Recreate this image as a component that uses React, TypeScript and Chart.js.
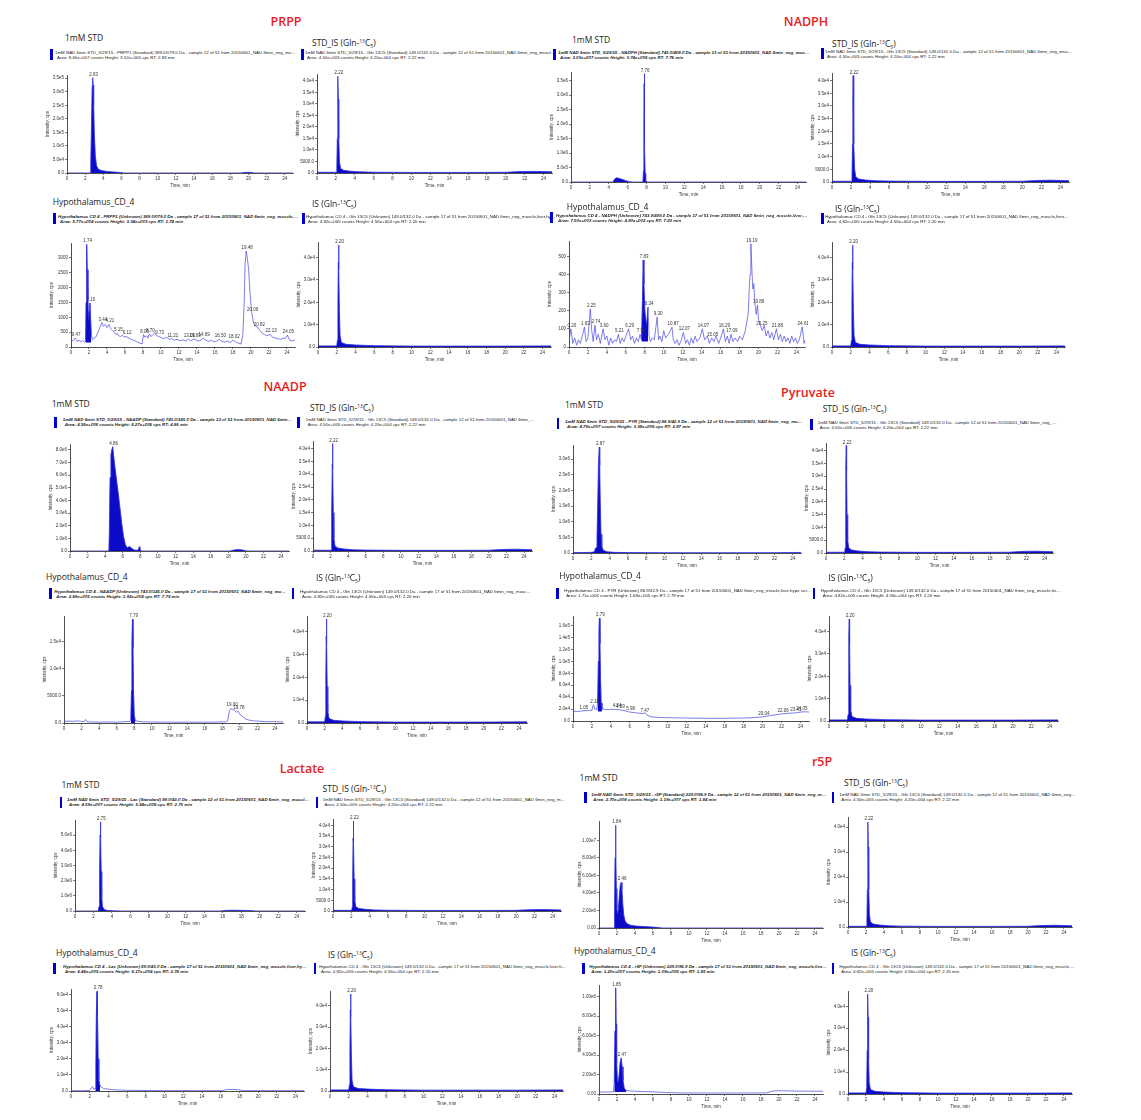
import React, { useEffect, useRef } from "react";
import { Chart, registerables } from "chart.js";

Chart.register(...registerables);

type Pt = [number, number];

// ---------------- shared axis data ----------------
const xTicks = [0, 2, 4, 6, 8, 10, 12, 14, 16, 18, 20, 22, 24];
const X_MAX = 24.9;

const isStdYTicks = [0, 5000, 10000, 15000, 20000, 25000, 30000, 35000, 40000];
const isStdYLabels = ["0.0", "5000.0", "1.0e4", "1.5e4", "2.0e4", "2.5e4", "3.0e4", "3.5e4", "4.0e4"];
const isHypoYTicks = [0, 10000, 20000, 30000, 40000];
const isHypoYLabels = ["0.0", "1.0e4", "2.0e4", "3.0e4", "4.0e4"];

// ---------------- internal standard traces (same injections reused) ----------------
const stdIsTrace: Pt[] = [
  [0, 300], [2.05, 300], [2.1, 2000], [2.15, 15000], [2.19, 34000], [2.22, 42000], [2.26, 32000],
  [2.31, 15000], [2.38, 5000], [2.5, 2000], [2.8, 1200], [3.5, 800], [4.5, 500], [6, 350],
  [10, 250], [16, 250], [20, 300], [21.5, 600], [23, 700], [24, 600], [24.9, 500],
];
const stdIsPeaks: Pt[] = [[2.22, 42000]];

const hypoIsTrace: Pt[] = [
  [0, 500], [2.0, 500], [2.08, 3000], [2.13, 20000], [2.17, 38000], [2.2, 45600], [2.24, 35000],
  [2.29, 16000], [2.36, 5000], [2.5, 2000], [3, 1200], [4, 900], [6, 600], [10, 400], [20, 400], [24.9, 500],
];
const hypoIsPeaks: Pt[] = [[2.2, 45600]];

// ---------------- PRPP ----------------
const prppStdTrace: Pt[] = [
  [0, 0], [2.55, 0], [2.62, 40000], [2.7, 180000], [2.77, 320000], [2.83, 352000], [2.88, 325000],
  [2.94, 250000], [3.02, 140000], [3.12, 65000], [3.25, 28000], [3.45, 14000], [3.8, 9000],
  [4.4, 6000], [5.2, 3500], [5.9, 2000], [6.3, 0], [19.2, 0], [19.5, 2000], [20.2, 2500], [20.6, 0], [24.9, 0],
];
const prppStdPeaks: Pt[] = [[2.83, 352000]];
const prppStdYTicks = [0, 50000, 100000, 150000, 200000, 250000, 300000, 350000];
const prppStdYLabels = ["0.0", "5.0e4", "1.0e5", "1.5e5", "2.0e5", "2.5e5", "3.0e5", "3.5e5"];

const prppHypoTrace: Pt[] = [
  [0, 250], [0.2, 200], [0.47, 300], [0.7, 180], [0.9, 230], [1.1, 170], [1.3, 220], [1.5, 160],
  [1.62, 180], [1.68, 1500], [1.74, 3450], [1.8, 2600], [1.88, 1600], [1.95, 900], [2.02, 1200],
  [2.1, 1480], [2.18, 900], [2.26, 400], [2.4, 250], [2.6, 300], [2.8, 350], [3.0, 500], [3.2, 650],
  [3.44, 820], [3.6, 700], [3.8, 760], [4.0, 650], [4.21, 760], [4.4, 620], [4.6, 550], [4.8, 500],
  [5.0, 420], [5.15, 460], [5.3, 380], [5.5, 350], [5.7, 400], [5.9, 330], [6.12, 360], [6.4, 300],
  [6.7, 260], [7.0, 220], [7.3, 180], [7.6, 140], [7.9, 100], [8.06, 420], [8.2, 330], [8.4, 380],
  [8.55, 300], [8.7, 440], [8.9, 350], [9.1, 420], [9.3, 480], [9.5, 380], [9.73, 360], [10.0, 320],
  [10.3, 280], [10.6, 330], [10.9, 260], [11.21, 280], [11.5, 230], [11.8, 260], [12.1, 210],
  [12.4, 240], [12.7, 200], [13.06, 260], [13.3, 210], [13.69, 270], [14.0, 220], [14.3, 200],
  [14.69, 300], [15.0, 230], [15.3, 190], [15.6, 220], [15.9, 170], [16.2, 200], [16.5, 260],
  [16.8, 190], [17.1, 160], [17.4, 200], [17.7, 150], [18.02, 230], [18.3, 170], [18.6, 130],
  [18.9, 100], [19.1, 400], [19.25, 1500], [19.35, 2800], [19.48, 3230], [19.6, 3000], [19.75, 2600],
  [19.9, 1800], [20.09, 1150], [20.3, 800], [20.5, 700], [20.82, 650], [21.0, 550], [21.2, 480],
  [21.5, 420], [21.8, 380], [22.13, 430], [22.4, 330], [22.7, 300], [23.0, 280], [23.3, 260],
  [23.6, 300], [23.8, 280], [24.05, 400], [24.3, 230], [24.6, 200], [24.9, 240],
];
const prppHypoPeaks: Pt[] = [
  [0.47, 300], [1.74, 3450], [2.1, 1480], [3.44, 820], [4.21, 760], [5.15, 460], [6.12, 360],
  [8.06, 420], [8.7, 440], [9.73, 360], [11.21, 280], [13.06, 260], [13.69, 270], [14.69, 300],
  [16.5, 260], [18.02, 230], [19.48, 3230], [20.09, 1150], [20.82, 650], [22.13, 430], [24.05, 400],
];
const prppHypoYTicks = [0, 500, 1000, 1500, 2000, 2500, 3000];
const prppHypoYLabels = ["0", "500", "1000", "1500", "2000", "2500", "3000"];

// ---------------- NADPH ----------------
const nadphStdTrace: Pt[] = [
  [0, 0], [4.4, 0], [4.5, 30000], [4.65, 110000], [4.85, 145000], [5.05, 130000], [5.3, 105000],
  [5.6, 70000], [5.9, 35000], [6.2, 12000], [6.5, 0], [7.62, 0], [7.68, 400000], [7.72, 2000000],
  [7.75, 3400000], [7.76, 3740000], [7.79, 2600000], [7.82, 1200000], [7.86, 300000], [7.92, 60000],
  [8.05, 0], [24.9, 0],
];
const nadphStdPeaks: Pt[] = [[7.76, 3740000]];
const nadphStdYTicks = [0, 500000, 1000000, 1500000, 2000000, 2500000, 3000000, 3500000];
const nadphStdYLabels = ["0.0", "5.0e5", "1.0e6", "1.5e6", "2.0e6", "2.5e6", "3.0e6", "3.5e6"];

const nadphHypoTrace: Pt[] = [
  [0, 30], [0.2, 100], [0.4, 20], [0.6, 50], [0.8, 10], [1.0, 40], [1.2, 20], [1.4, 60], [1.63, 110],
  [1.8, 30], [2.0, 50], [2.25, 210], [2.4, 90], [2.55, 30], [2.74, 120], [2.9, 40], [3.1, 70],
  [3.3, 20], [3.6, 100], [3.8, 40], [4.0, 60], [4.2, 10], [4.4, 50], [4.6, 20], [4.8, 40], [5.0, 30],
  [5.21, 70], [5.4, 20], [5.6, 50], [5.8, 30], [6.0, 60], [6.29, 100], [6.5, 40], [6.7, 60], [6.9, 20],
  [7.1, 50], [7.3, 30], [7.5, 70], [7.65, 40], [7.75, 250], [7.83, 480], [7.9, 350], [8.0, 200],
  [8.1, 150], [8.2, 120], [8.34, 220], [8.45, 60], [8.6, 30], [8.8, 50], [9.0, 40], [9.1, 80],
  [9.3, 165], [9.45, 40], [9.6, 60], [9.8, 30], [10.0, 90], [10.2, 50], [10.5, 70], [10.87, 110],
  [11.0, 40], [11.2, 20], [11.4, 40], [11.6, 10], [11.8, 30], [12.07, 80], [12.3, 20], [12.5, 40],
  [12.7, 10], [12.9, 50], [13.1, 20], [13.3, 60], [13.5, 30], [13.8, 50], [14.07, 100], [14.3, 40],
  [14.6, 60], [14.8, 20], [15.05, 50], [15.3, 30], [15.5, 60], [15.8, 20], [16.0, 50], [16.29, 100],
  [16.5, 30], [16.7, 60], [16.9, 20], [17.09, 70], [17.3, 30], [17.5, 50], [17.8, 30], [18.0, 60],
  [18.3, 40], [18.6, 90], [18.9, 180], [19.0, 300], [19.1, 400], [19.19, 570], [19.3, 420],
  [19.4, 320], [19.5, 350], [19.6, 250], [19.75, 180], [19.89, 230], [20.0, 150], [20.25, 110],
  [20.4, 90], [20.6, 120], [20.8, 60], [21.0, 90], [21.2, 50], [21.4, 80], [21.6, 40], [21.88, 100],
  [22.1, 40], [22.3, 70], [22.5, 30], [22.7, 60], [22.9, 30], [23.1, 50], [23.3, 20], [23.5, 60],
  [23.7, 30], [23.9, 50], [24.1, 20], [24.3, 40], [24.61, 110], [24.8, 20], [24.9, 40],
];
const nadphHypoPeaks: Pt[] = [
  [0.2, 100], [1.63, 110], [2.25, 210], [2.74, 120], [3.6, 100], [5.21, 70], [6.29, 100], [7.5, 70],
  [7.83, 480], [8.34, 220], [9.3, 165], [10.87, 110], [12.07, 80], [14.07, 100], [15.05, 50],
  [16.29, 100], [17.09, 70], [19.19, 570], [19.89, 230], [20.25, 110], [21.88, 100], [24.61, 110],
];
const nadphHypoYTicks = [0, 100, 200, 300, 400, 500];
const nadphHypoYLabels = ["0", "100", "200", "300", "400", "500"];

// ---------------- NAADP ----------------
const naadpStdTrace: Pt[] = [
  [0, 0], [4.42, 0], [4.47, 1500000], [4.55, 5800000], [4.65, 7600000], [4.78, 8100000],
  [4.86, 8250000], [4.95, 7600000], [5.1, 6700000], [5.3, 5600000], [5.5, 4500000], [5.7, 3300000],
  [5.9, 2100000], [6.1, 1100000], [6.3, 500000], [6.5, 250000], [6.65, 320000], [6.8, 350000],
  [7.0, 220000], [7.3, 80000], [7.7, 60000], [7.8, 150000], [7.87, 340000], [7.95, 200000], [8.05, 0],
  [18.2, 0], [18.5, 60000], [19, 110000], [19.5, 90000], [19.9, 40000], [20.1, 0], [24.9, 0],
];
const naadpStdPeaks: Pt[] = [[4.86, 8250000]];
const naadpStdYTicks = [0, 1e6, 2e6, 3e6, 4e6, 5e6, 6e6, 7e6, 8e6];
const naadpStdYLabels = ["0.0", "1.0e6", "2.0e6", "3.0e6", "4.0e6", "5.0e6", "6.0e6", "7.0e6", "8.0e6"];

const naadpHypoTrace: Pt[] = [
  [0, 300], [0.5, 350], [1, 300], [1.5, 380], [2, 300], [2.3, 250], [2.45, 650], [2.6, 250], [3, 200],
  [4, 150], [5, 200], [6, 150], [7, 250], [7.5, 300], [7.6, 500], [7.68, 6000], [7.73, 15000],
  [7.79, 19200], [7.84, 14000], [7.9, 6000], [7.98, 1500], [8.1, 400], [9, 200], [12, 150], [16, 150],
  [18.4, 200], [18.6, 400], [18.8, 2200], [19.0, 2700], [19.2, 2500], [19.4, 2300], [19.6, 2000],
  [19.78, 2200], [20, 1600], [20.3, 1200], [20.6, 800], [21, 550], [21.5, 400], [22, 350], [23, 250],
  [24, 250], [24.9, 200],
];
const naadpHypoPeaks: Pt[] = [[7.79, 19200], [19.0, 2700], [19.78, 2200]];
const naadpHypoYTicks = [0, 5000, 10000, 15000];
const naadpHypoYLabels = ["0.0", "5000.0", "1.0e4", "1.5e4"];

// ---------------- Pyruvate ----------------
const pyrStdTrace: Pt[] = [
  [0, 15000], [1, 15000], [2, 20000], [2.35, 40000], [2.45, 160000], [2.55, 170000], [2.62, 500000],
  [2.7, 1600000], [2.78, 2900000], [2.87, 3380000], [2.92, 2800000], [2.98, 1600000], [3.06, 600000],
  [3.15, 220000], [3.3, 90000], [3.7, 40000], [4.5, 20000], [6, 12000], [10, 8000], [18, 8000],
  [22, 10000], [24.9, 18000],
];
const pyrStdPeaks: Pt[] = [[2.87, 3380000]];
const pyrStdYTicks = [0, 500000, 1000000, 1500000, 2000000, 2500000, 3000000];
const pyrStdYLabels = ["0.0", "5.0e5", "1.0e6", "1.5e6", "2.0e6", "2.5e6", "3.0e6"];

const pyrHypoTrace: Pt[] = [
  [0, 16000], [0.5, 16000], [1.05, 17000], [1.5, 17500], [2.0, 18000], [2.1, 26000], [2.18, 27000],
  [2.3, 20000], [2.5, 19000], [2.6, 30000], [2.68, 100000], [2.74, 150000], [2.79, 172000],
  [2.84, 130000], [2.9, 70000], [2.97, 30000], [3.05, 20000], [3.5, 19000], [4.0, 19500],
  [4.54, 19500], [4.89, 19000], [5.5, 17000], [5.98, 15000], [6.5, 14000], [7.0, 13000],
  [7.47, 12500], [7.6, 14000], [7.8, 10000], [8.2, 7000], [9, 6000], [10, 5500], [12, 5000],
  [14, 4500], [16, 4500], [18, 5000], [19, 5500], [20.04, 7000], [21, 9500], [22.06, 12000],
  [22.8, 13000], [23.41, 13500], [24.05, 15000], [24.5, 15500], [24.9, 15000],
];
const pyrHypoPeaks: Pt[] = [
  [1.05, 17000], [2.18, 27000], [2.79, 172000], [4.54, 19500], [4.89, 19000], [5.98, 15000],
  [7.47, 12500], [20.04, 7000], [22.06, 12000], [23.41, 13500], [24.05, 15000],
];
const pyrHypoYTicks = [0, 20000, 40000, 60000, 80000, 100000, 120000, 140000, 160000];
const pyrHypoYLabels = ["0.0", "2.0e4", "4.0e4", "6.0e4", "8.0e4", "1.0e5", "1.2e5", "1.4e5", "1.6e5"];

// ---------------- Lactate ----------------
const lacStdTrace: Pt[] = [
  [0, 0], [2.52, 0], [2.6, 300000], [2.66, 2400000], [2.71, 5000000], [2.75, 5870000],
  [2.79, 4800000], [2.84, 2600000], [2.9, 900000], [2.98, 300000], [3.15, 100000], [3.5, 40000],
  [4.2, 10000], [5, 0], [15.8, 0], [16.2, 40000], [17, 50000], [18.5, 40000], [19.2, 20000],
  [19.5, 0], [24.9, 0],
];
const lacStdPeaks: Pt[] = [[2.75, 5870000]];
const lacStdYTicks = [0, 1e6, 2e6, 3e6, 4e6, 5e6];
const lacStdYLabels = ["0.0", "1.0e6", "2.0e6", "3.0e6", "4.0e6", "5.0e6"];

const lacHypoTrace: Pt[] = [
  [0, 200], [1, 200], [2.0, 300], [2.15, 1800], [2.3, 2600], [2.45, 1200], [2.6, 1600], [2.66, 16000],
  [2.72, 50000], [2.78, 62000], [2.83, 47000], [2.9, 20000], [2.97, 7000], [3.1, 3000], [3.5, 1500],
  [4.5, 800], [6, 400], [10, 250], [16.2, 250], [16.6, 900], [17.3, 1000], [18, 700], [18.4, 250],
  [24.9, 250],
];
const lacHypoPeaks: Pt[] = [[2.78, 62000]];
const lacHypoYTicks = [0, 10000, 20000, 30000, 40000, 50000, 60000];
const lacHypoYLabels = ["0.0", "1.0e4", "2.0e4", "3.0e4", "4.0e4", "5.0e4", "6.0e4"];

// ---------------- r5P ----------------
const r5pStdTrace: Pt[] = [
  [0, 0], [1.68, 0], [1.73, 2000000], [1.78, 8000000], [1.84, 11700000], [1.88, 9000000],
  [1.93, 4500000], [1.99, 2200000], [2.06, 1600000], [2.15, 2200000], [2.25, 3500000],
  [2.35, 4800000], [2.46, 5200000], [2.55, 4400000], [2.65, 2700000], [2.75, 1500000],
  [2.9, 800000], [3.1, 500000], [3.5, 320000], [4, 240000], [5, 160000], [6, 100000], [6.6, 50000],
  [7, 0], [24.9, 0],
];
const r5pStdPeaks: Pt[] = [[1.84, 11700000], [2.46, 5200000]];
const r5pStdYTicks = [0, 2e6, 4e6, 6e6, 8e6, 1e7];
const r5pStdYLabels = ["0.00", "2.00e6", "4.00e6", "6.00e6", "8.00e6", "1.00e7"];

const r5pHypoTrace: Pt[] = [
  [0, 20000], [1, 20000], [1.6, 23000], [1.7, 120000], [1.78, 650000], [1.85, 1090000], [1.9, 720000],
  [1.96, 320000], [2.05, 130000], [2.15, 120000], [2.25, 200000], [2.35, 320000], [2.47, 370000],
  [2.56, 280000], [2.66, 140000], [2.8, 60000], [3.0, 35000], [4, 28000], [6, 22000], [7.5, 15000],
  [9, 11000], [14, 10000], [18.6, 11000], [19.1, 26000], [19.6, 34000], [20.5, 33000], [22, 30000],
  [24.9, 28000],
];
const r5pHypoPeaks: Pt[] = [[1.85, 1090000], [2.47, 370000]];
const r5pHypoYTicks = [0, 2e5, 4e5, 6e5, 8e5, 1e6];
const r5pHypoYLabels = ["0.00", "2.00e5", "4.00e5", "6.00e5", "8.00e5", "1.00e6"];

// ---------------- text ----------------
const WIFF = "from 20150601_NAD 6min_neg_muscle,liver,hypo set1_IOK5.wiff";
const H_STD_IS = "1mM NAD 6min STD_5/29/15 - Gln 13C5 (Standard) 149.0/132.0 Da - sample 12 of 51 " + WIFF;
const H_STD_IS2 = "Area: 4.50e+005 counts  Height: 4.20e+004 cps  RT: 2.22 min";
const H_HYP_IS = "Hypothalamus CD 4 - Gln 13C5 (Unknown) 149.0/132.0 Da - sample 17 of 51 " + WIFF;
const H_HYP_IS2 = "Area: 4.82e+005 counts  Height: 4.56e+004 cps  RT: 2.20 min";

const titles: [string, number, number][] = [
  ["PRPP", 286, 22], ["NADPH", 806, 22], ["NAADP", 285, 387],
  ["Pyruvate", 808, 393], ["Lactate", 302, 769], ["r5P", 822, 762],
];

// ---------------- layout ----------------
const FILL = "rgb(12,12,200)";
const FILL_LINE = "rgb(45,45,225)";
const TRACE = "rgb(70,70,228)";
const AXIS = "#222";
const TICK_FONT = "'Liberation Sans Narrow', 'Liberation Sans', Arial, sans-serif";
const YW = 22;
const XH = 15;
const TOP = 10;
const RP = 3;

type Fill = "all" | [number, number, number];

interface PanelDef {
  kind: "std" | "stdIs" | "hyp" | "hypIs";
  lx: number; ly: number;
  h1: string; h2: string; bold: boolean;
  rx: number; ry: number; tx: number;
  x0: number; x24: number; y0: number; yTopPx: number; yTopVal: number; yMax: number;
  yTicks: number[]; yLabels: string[];
  trace: Pt[]; peaks: Pt[]; fill: Fill;
}

const IS_STD = { yTicks: isStdYTicks, yLabels: isStdYLabels, trace: stdIsTrace, peaks: stdIsPeaks, fill: "all" as Fill, h1: H_STD_IS, h2: H_STD_IS2, bold: false, kind: "stdIs" as const };
const IS_HYP = { yTicks: isHypoYTicks, yLabels: isHypoYLabels, trace: hypoIsTrace, peaks: hypoIsPeaks, fill: "all" as Fill, h1: H_HYP_IS, h2: H_HYP_IS2, bold: false, kind: "hypIs" as const };

const panels: PanelDef[] = [
  // PRPP
  { kind: "std", lx: 65, ly: 38, rx: 50, ry: 49, tx: 55, bold: false,
    h1: "1mM NAD 6min STD_5/29/15 - PRPP1 (Standard) 389.0/079.0 Da - sample 12 of 51 " + WIFF,
    h2: "Area: 8.66e+007 counts  Height: 3.52e+005 cps  RT: 2.83 min",
    x0: 66.7, x24: 284.3, y0: 173.3, yTopPx: 78.3, yTopVal: 350000, yMax: 362000,
    yTicks: prppStdYTicks, yLabels: prppStdYLabels, trace: prppStdTrace, peaks: prppStdPeaks, fill: "all" },
  { ...IS_STD, lx: 312, ly: 40.5, rx: 301, ry: 49, tx: 305,
    x0: 317.3, x24: 544, y0: 173.3, yTopPx: 80.7, yTopVal: 40000, yMax: 43000 },
  { kind: "hyp", lx: 52.7, ly: 201.7, rx: 53, ry: 213, tx: 58, bold: true,
    h1: "Hypothalamus CD 4 - PRPP1 (Unknown) 389.0/079.0 Da - sample 17 of 51 " + WIFF,
    h2: "Area: 5.77e+004 counts  Height: 3.34e+003 cps  RT: 1.74 min",
    x0: 70.7, x24: 286.7, y0: 347.3, yTopPx: 258.3, yTopVal: 3000, yMax: 3500,
    yTicks: prppHypoYTicks, yLabels: prppHypoYLabels, trace: prppHypoTrace, peaks: prppHypoPeaks, fill: [1.62, 2.26, 150] },
  { ...IS_HYP, lx: 312, ly: 202, rx: 302, ry: 213, tx: 306,
    x0: 318, x24: 543, y0: 347, yTopPx: 258, yTopVal: 40000, yMax: 47000 },
  // NADPH
  { kind: "std", lx: 572, ly: 40, rx: 553, ry: 49, tx: 558, bold: true,
    h1: "1mM NAD 6min STD_5/29/15 - NADPH (Standard) 743.0/408.0 Da - sample 13 of 51 " + WIFF,
    h2: "Area: 3.03e+007 counts  Height: 3.74e+006 cps  RT: 7.76 min",
    x0: 570.7, x24: 797.3, y0: 182.3, yTopPx: 80.7, yTopVal: 3500000, yMax: 3800000,
    yTicks: nadphStdYTicks, yLabels: nadphStdYLabels, trace: nadphStdTrace, peaks: nadphStdPeaks, fill: "all" },
  { ...IS_STD, lx: 832, ly: 42, rx: 821, ry: 48, tx: 825,
    x0: 831.7, x24: 1059.7, y0: 182.3, yTopPx: 80.7, yTopVal: 40000, yMax: 43000 },
  { kind: "hyp", lx: 566.7, ly: 206.7, rx: 550, ry: 212, tx: 556, bold: true,
    h1: "Hypothalamus CD 4 - NADPH (Unknown) 743.0/408.0 Da - sample 17 of 51 " + WIFF,
    h2: "Area: 7.50e+003 counts  Height: 4.80e+002 cps  RT: 7.83 min",
    x0: 569.3, x24: 796.7, y0: 346.7, yTopPx: 256, yTopVal: 500, yMax: 585,
    yTicks: nadphHypoYTicks, yLabels: nadphHypoYLabels, trace: nadphHypoTrace, peaks: nadphHypoPeaks, fill: [7.65, 8.4, 30] },
  { ...IS_HYP, lx: 835, ly: 207, rx: 821, ry: 213, tx: 825,
    x0: 832, x24: 1057, y0: 347, yTopPx: 258, yTopVal: 40000, yMax: 47000 },
  // NAADP
  { kind: "std", lx: 51.7, ly: 404, rx: 54.3, ry: 416.5, tx: 62.7, bold: true,
    h1: "1mM NAD 6min STD_5/29/15 - NAADP (Standard) 743.0/145.0 Da - sample 13 of 51 " + WIFF,
    h2: "Area: 4.56e+008 counts  Height: 8.27e+006 cps  RT: 4.86 min",
    x0: 70, x24: 281.3, y0: 550.7, yTopPx: 450, yTopVal: 8000000, yMax: 8450000,
    yTicks: naadpStdYTicks, yLabels: naadpStdYLabels, trace: naadpStdTrace, peaks: naadpStdPeaks, fill: "all" },
  { ...IS_STD, lx: 310, ly: 406, rx: 297.3, ry: 416.5, tx: 305.7,
    x0: 313.3, x24: 524, y0: 550.7, yTopPx: 448.3, yTopVal: 40000, yMax: 43000 },
  { kind: "hyp", lx: 46, ly: 576.7, rx: 49.3, ry: 588, tx: 54.3, bold: true,
    h1: "Hypothalamus CD 4 - NAADP (Unknown) 743.0/145.0 Da - sample 17 of 51 " + WIFF,
    h2: "Area: 2.69e+005 counts  Height: 1.92e+004 cps  RT: 7.79 min",
    x0: 64.3, x24: 275, y0: 722.7, yTopPx: 641.7, yTopVal: 15000, yMax: 19800,
    yTicks: naadpHypoYTicks, yLabels: naadpHypoYLabels, trace: naadpHypoTrace, peaks: naadpHypoPeaks, fill: [7.6, 8.1, 0] },
  { ...IS_HYP, lx: 316, ly: 576, rx: 291.7, ry: 588, tx: 300,
    x0: 307.3, x24: 519, y0: 722.7, yTopPx: 631.7, yTopVal: 40000, yMax: 47000 },
  // Pyruvate
  { kind: "std", lx: 565, ly: 405, rx: 556.7, ry: 418, tx: 565, bold: true,
    h1: "1mM NAD 6min STD_5/29/15 - PYR (Standard) 86.9/42.9 Da - sample 12 of 51 " + WIFF,
    h2: "Area: 4.79e+007 counts  Height: 3.38e+006 cps  RT: 2.87 min",
    x0: 572.7, x24: 792, y0: 552.7, yTopPx: 459, yTopVal: 3000000, yMax: 3450000,
    yTicks: pyrStdYTicks, yLabels: pyrStdYLabels, trace: pyrStdTrace, peaks: pyrStdPeaks, fill: "all" },
  { ...IS_STD, lx: 822.7, ly: 407.3, rx: 810, ry: 419, tx: 817.7,
    x0: 826, x24: 1044.7, y0: 552.7, yTopPx: 451, yTopVal: 40000, yMax: 43000 },
  { kind: "hyp", lx: 559.3, ly: 576, rx: 556, ry: 587.7, tx: 564.3, bold: false,
    h1: "Hypothalamus CD 4 - PYR (Unknown) 86.9/42.9 Da - sample 17 of 51 " + WIFF,
    h2: "Area: 1.71e+006 counts  Height: 1.68e+005 cps  RT: 2.79 min",
    x0: 572.7, x24: 800, y0: 721, yTopPx: 625.7, yTopVal: 160000, yMax: 176000,
    yTicks: pyrHypoYTicks, yLabels: pyrHypoYLabels, trace: pyrHypoTrace, peaks: pyrHypoPeaks, fill: [2.6, 3.05, 16000] },
  { ...IS_HYP, lx: 828.3, ly: 576, rx: 812.7, ry: 587.7, tx: 820.7,
    x0: 828.7, x24: 1049, y0: 721, yTopPx: 631.7, yTopVal: 40000, yMax: 47000 },
  // Lactate
  { kind: "std", lx: 61.5, ly: 785, rx: 59.5, ry: 796.7, tx: 67, bold: true,
    h1: "1mM NAD 6min STD_5/29/15 - Lac (Standard) 89.0/43.0 Da - sample 12 of 51 " + WIFF,
    h2: "Area: 4.59e+007 counts  Height: 5.84e+006 cps  RT: 2.75 min",
    x0: 75.4, x24: 297, y0: 911.3, yTopPx: 835, yTopVal: 5000000, yMax: 6000000,
    yTicks: lacStdYTicks, yLabels: lacStdYLabels, trace: lacStdTrace, peaks: lacStdPeaks, fill: "all" },
  { ...IS_STD, lx: 322.6, ly: 787.3, rx: 315.7, ry: 796.7, tx: 322.6,
    x0: 333, x24: 553.2, y0: 911.3, yTopPx: 825.7, yTopVal: 40000, yMax: 43000 },
  { kind: "hyp", lx: 56, ly: 952.7, rx: 53.2, ry: 963.3, tx: 63, bold: true,
    h1: "Hypothalamus CD 4 - Lac (Unknown) 89.0/43.0 Da - sample 17 of 51 " + WIFF,
    h2: "Area: 6.46e+005 counts  Height: 6.17e+004 cps  RT: 2.78 min",
    x0: 70.6, x24: 295.6, y0: 1090.7, yTopPx: 994.3, yTopVal: 60000, yMax: 63500,
    yTicks: lacHypoYTicks, yLabels: lacHypoYLabels, trace: lacHypoTrace, peaks: lacHypoPeaks, fill: [2.6, 3.1, 0] },
  { ...IS_HYP, lx: 328, ly: 952.7, rx: 313.6, ry: 963.3, tx: 319,
    x0: 329.6, x24: 554.6, y0: 1090.7, yTopPx: 1006, yTopVal: 40000, yMax: 47000 },
  // r5P
  { kind: "std", lx: 579.6, ly: 778.3, rx: 584.4, ry: 791.7, tx: 591.3, bold: true,
    h1: "1mM NAD 6min STD_5/29/15 - r5P (Standard) 229.0/96.9 Da - sample 12 of 51 " + WIFF,
    h2: "Area: 2.70e+008 counts  Height: 1.19e+007 cps  RT: 1.84 min",
    x0: 599, x24: 815, y0: 927.7, yTopPx: 840, yTopVal: 10000000, yMax: 12200000,
    yTicks: r5pStdYTicks, yLabels: r5pStdYLabels, trace: r5pStdTrace, peaks: r5pStdPeaks, fill: "all" },
  { ...IS_STD, yTicks: isHypoYTicks, yLabels: isHypoYLabels, lx: 844, ly: 780.7, rx: 831.6, ry: 791.7, tx: 839.3,
    x0: 847.6, x24: 1063.6, y0: 926.7, yTopPx: 826.7, yTopVal: 40000, yMax: 44000 },
  { kind: "hyp", lx: 574, ly: 950.7, rx: 582.3, ry: 963.3, tx: 589.3, bold: true,
    h1: "Hypothalamus CD 4 - r5P (Unknown) 229.0/96.9 Da - sample 17 of 51 " + WIFF,
    h2: "Area: 1.20e+007 counts  Height: 1.09e+006 cps  RT: 1.85 min",
    x0: 599, x24: 815, y0: 1094, yTopPx: 996.7, yTopVal: 1000000, yMax: 1120000,
    yTicks: r5pHypoYTicks, yLabels: r5pHypoYLabels, trace: r5pHypoTrace, peaks: r5pHypoPeaks, fill: [1.62, 3.0, 20000] },
  { ...IS_HYP, lx: 851, ly: 951, rx: 831.6, ry: 963.3, tx: 839.3,
    x0: 847.6, x24: 1063.6, y0: 1094, yTopPx: 1006.7, yTopVal: 40000, yMax: 47000 },
];

function SectionLabel({ d }: { d: PanelDef }) {
  let content: React.ReactNode;
  if (d.kind === "std") content = "1mM STD";
  else if (d.kind === "hyp") content = "Hypothalamus_CD_4";
  else {
    content = (
      <>
        {d.kind === "stdIs" ? "STD_IS (Gln-" : "IS (Gln-"}
        <sup style={{ fontSize: "5px", verticalAlign: "3px" }}>13</sup>C
        <sub style={{ fontSize: "5px", verticalAlign: "-1.5px" }}>5</sub>)
      </>
    );
  }
  return (
    <div style={{ position: "absolute", left: d.lx, top: d.ly - 6, fontFamily: "'Open Sans', sans-serif",
      fontSize: "8.5px", lineHeight: "12px", color: "#222", whiteSpace: "nowrap" }}>
      {content}
    </div>
  );
}

function Panel({ d }: { d: PanelDef }) {
  const ref = useRef<HTMLCanvasElement>(null);
  const ppm = (d.x24 - d.x0) / 24;
  const plotTop = d.y0 - (d.yMax * (d.y0 - d.yTopPx)) / d.yTopVal;
  const left = Math.round(d.x0 - YW);
  const top = Math.round(plotTop - TOP);
  const width = Math.round(YW + X_MAX * ppm + RP);
  const height = Math.round(d.y0 - top + XH);
  const headW = d.x0 + X_MAX * ppm - d.tx + 4;

  useEffect(() => {
    const canvas = ref.current;
    if (!canvas) return;
    const toXY = (pts: Pt[]) => pts.map(([x, y]) => ({ x, y }));
    const datasets: any[] = [];
    if (d.fill === "all") {
      datasets.push({ data: toXY(d.trace), borderColor: FILL_LINE, backgroundColor: FILL, borderWidth: 0.8, fill: "origin", pointRadius: 0 });
    } else {
      const [a, b, base] = d.fill;
      datasets.push({ data: toXY(d.trace.filter((p) => p[0] >= a && p[0] <= b)), borderColor: FILL_LINE,
        backgroundColor: FILL, borderWidth: 0.6, fill: { value: base }, pointRadius: 0 });
      datasets.push({ data: toXY(d.trace), borderColor: TRACE, borderWidth: 0.7, fill: false, pointRadius: 0 });
    }
    const peakPlugin = {
      id: "peakLabels",
      afterDatasetsDraw(chart: any) {
        const { ctx, scales } = chart;
        ctx.save();
        ctx.font = "4.5px 'Liberation Sans', Arial";
        ctx.fillStyle = "#333";
        ctx.textAlign = "center";
        ctx.textBaseline = "bottom";
        for (const [t, v] of d.peaks) {
          ctx.fillText(t.toFixed(2), scales.x.getPixelForValue(t) + 1, scales.y.getPixelForValue(v) - 1);
        }
        ctx.restore();
      },
    };
    const tickFont = { size: 4.5, family: TICK_FONT };
    const chart = new Chart(canvas, {
      type: "line",
      data: { datasets },
      options: {
        animation: false,
        responsive: false,
        maintainAspectRatio: false,
        events: [],
        layout: { padding: { top: TOP, right: RP, left: 0, bottom: 0 } },
        plugins: { legend: { display: false }, tooltip: { enabled: false } },
        elements: { line: { tension: 0 } },
        scales: {
          x: {
            type: "linear", min: 0, max: X_MAX,
            afterBuildTicks: (s: any) => { s.ticks = xTicks.map((v) => ({ value: v })); },
            afterFit: (s: any) => { s.height = XH; },
            grid: { drawOnChartArea: false, drawTicks: true, tickLength: 2, color: AXIS, lineWidth: 0.6 },
            border: { display: true, color: AXIS, width: 0.8 },
            ticks: { font: tickFont, color: "#333", padding: 1, maxRotation: 0, autoSkip: false, callback: (v: any) => String(v) },
            title: { display: true, text: "Time, min", font: tickFont, color: "#333", padding: { top: 0.5, bottom: 0 } },
          },
          y: {
            type: "linear", min: 0, max: d.yMax,
            afterBuildTicks: (s: any) => { s.ticks = d.yTicks.map((v) => ({ value: v })); },
            afterFit: (s: any) => { s.width = YW; },
            grid: { drawOnChartArea: false, drawTicks: true, tickLength: 2, color: AXIS, lineWidth: 0.6 },
            border: { display: true, color: AXIS, width: 0.8 },
            ticks: { font: tickFont, color: "#333", padding: 1, autoSkip: false,
              callback: (v: any) => { const i = d.yTicks.indexOf(v); return i >= 0 ? d.yLabels[i] : ""; } },
            title: { display: true, text: "Intensity, cps", font: tickFont, color: "#333", padding: { top: 0, bottom: 0 } },
          },
        },
      },
      plugins: [peakPlugin],
    } as any);
    return () => chart.destroy();
  }, []);

  const headText: React.CSSProperties = {
    whiteSpace: "nowrap", overflow: "hidden", textOverflow: "ellipsis",
    fontWeight: d.bold ? 700 : 400, fontStyle: d.bold ? "italic" : "normal",
  };

  return (
    <>
      <SectionLabel d={d} />
      <div style={{ position: "absolute", left: d.rx, top: d.ry, width: 2.7, height: 11, background: "#0000cc" }} />
      <div style={{ position: "absolute", left: d.tx, top: d.ry + 0.5, width: headW, fontFamily: TICK_FONT,
        fontSize: "4.4px", lineHeight: "5.3px", color: "#222" }}>
        <div style={headText}>{d.h1}</div>
        <div style={{ ...headText, paddingLeft: 2 }}>{d.h2}</div>
      </div>
      <canvas ref={ref} width={width} height={height}
        style={{ position: "absolute", left, top, width, height }} />
    </>
  );
}

export default function App() {
  return (
    <div style={{ position: "absolute", left: 0, top: 0, width: 1141, height: 1120, background: "#fff", overflow: "hidden" }}>
      {titles.map(([t, x, y]) => (
        <div key={t} style={{ position: "absolute", left: x - 60, top: y - 9, width: 120, textAlign: "center",
          fontFamily: "'Open Sans', sans-serif", fontSize: "12.5px", fontWeight: 600, lineHeight: "18px", color: "#e8201e" }}>
          {t}
        </div>
      ))}
      {panels.map((d, i) => <Panel key={i} d={d} />)}
    </div>
  );
}
